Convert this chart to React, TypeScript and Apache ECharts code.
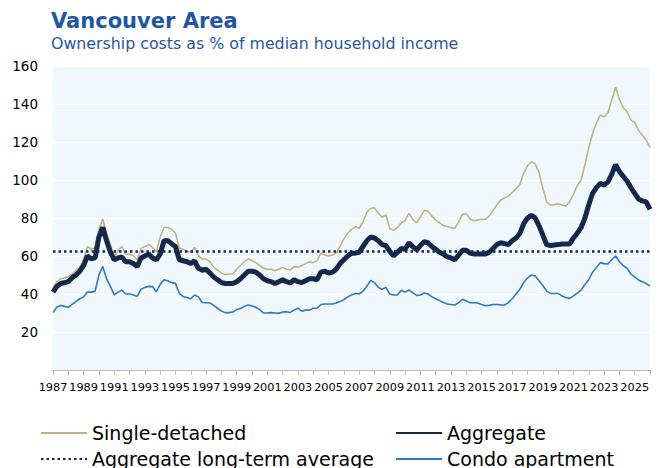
import React, { useEffect, useRef } from "react";
import * as echarts from "echarts";

const startYear = 1987;
const endYear = 2026;

// Quarterly values, 1987 Q1 .. 2026 Q1
const singleDetached = [
  43, 46.5, 48, 48.5, 49, 50.5, 52.5, 54, 58, 65,
  63.5, 64.5, 74, 79.5, 72, 66, 59, 63, 65, 61,
  61, 60, 58, 64, 65, 66, 64.5, 62.3, 70, 75,
  75, 74, 72, 64, 63.5, 62.5, 62, 64.5, 60, 58.5,
  58.3, 57, 54, 52.5, 51, 50.3, 50.5, 50.5, 53, 55,
  57, 58.5, 57.5, 56.5, 55, 53.5, 53, 53, 52.3, 53,
  54, 53, 52.6, 54.5, 54, 55, 56,
  57, 56.5, 57.5, 61.4,
  60.5, 60, 60.5, 61.5, 65, 69, 72, 74, 75.4, 74.6,
  78, 83, 85, 85.4, 82.5, 80.4, 81.6, 74.5, 73.5, 75,
  77.5, 78.6, 82.5, 79.3, 77.5, 80.5, 84, 83.5, 81, 78.9,
  77.5, 76, 75.5, 75, 74.6, 78, 82, 82.3, 79.5, 78.6,
  79, 79.3, 79.3, 81, 84, 87, 89.5, 90.5, 91.5, 93.5,
  95.5, 97.8, 103.5, 107.5, 109.6, 108.5, 104, 95.6, 88.5, 86.8,
  87, 87.5, 86.8, 86.3, 88.5, 92.5, 97, 100, 108, 117,
  124.6, 130, 134.2, 133.2, 135.4, 142, 148.8, 142.5, 138, 136,
  131.5, 130.2, 126, 123.5, 121, 117,
];

const aggregate = [
  41, 44, 45.5, 46, 46.5, 48.5, 50, 52, 55, 60,
  58.5, 59, 70, 75, 68, 62, 58, 59, 59.5, 57,
  57, 56, 54.5, 59, 60, 61, 59, 58, 61, 68,
  68, 66.5, 65, 58, 57.5, 57, 56, 57.5, 53.5, 52.5,
  53, 51, 49, 47.5, 46, 45.5, 45.5, 45.5, 46.5, 48,
  50, 52, 52, 51.5, 50, 48, 47, 46.5, 45.5, 46.5,
  47.5, 46.5, 45.8, 47.5, 46.5, 46, 47,
  48, 48, 47.5, 51.5,
  52, 51, 51.5, 53, 56, 58, 60, 61.5, 61.5, 62,
  65, 68, 70, 69.5, 68, 66, 65.5, 62.5, 60, 62,
  64, 63.5, 67, 65, 63.2, 65.5, 67.5, 67, 65, 63.5,
  62, 61, 59.6, 59, 58, 60.5, 63, 63, 61.5, 61,
  61, 61, 61, 62, 64, 66, 67, 66.5, 66, 68,
  69.5, 72, 77, 80, 81.5, 80, 76, 71, 66, 65.5,
  65.8, 66, 66.3, 66.3, 66.3, 69.5, 72, 75, 80, 87,
  93, 96, 98.2, 97.4, 99, 103, 108, 104.5, 102, 99.5,
  96, 93, 90, 89, 88.5, 84.5,
];

const condoApartment = [
  30.2, 33, 34, 33.5, 33, 34.5, 36, 37.5, 38.5, 41,
  41, 41.5, 50, 54.5, 48, 44, 39.5, 41, 42, 40,
  40, 39.5, 38.8, 42.5, 43.5, 44, 43.9, 41.2, 45, 47.5,
  47, 46, 45.6, 40.3, 38.6, 38.2, 37.5, 39.5, 38.5, 35.5,
  35.4, 35.3, 34, 32.5, 31, 30.2, 30.2, 30.5, 31.8, 32.4,
  33.5, 34.2, 33.7, 33, 31.8, 30, 30, 30.2, 30, 29.8,
  30.5, 30.7, 30.3, 31.5, 32.5, 31, 31.5,
  31.5, 32.5, 32.5, 34.5,
  34.7, 34.7, 34.7, 35.3, 36, 37, 38.5, 39.5, 40.3, 40,
  41.5, 44, 47.2, 46, 43.5, 42.5, 43.5, 40, 39.5, 39.5,
  42, 41, 42.1, 40.7, 39.3, 39.5, 40.5, 40, 38.5, 37.5,
  36.5, 35.5, 34.7, 34.5, 34.2, 35.5, 37.2, 36.3, 35.4, 35.4,
  35.3, 34.5, 33.8, 34, 34.5, 34.5, 34.3, 34.2, 35.5, 37.5,
  40, 42.5, 46, 48.5, 50, 49.5, 47, 44.5, 41.5, 40.3,
  40.3, 40.3, 39, 38.2, 37.7, 39, 40.5, 42, 45, 47.5,
  51.5, 54, 56.5, 56, 55.8, 58, 60, 57, 55, 53.5,
  50.5, 49, 47.4, 46.5, 45.5, 44.2,
];

const longTermAverage = 62.4;

const yTicks = { min: 0, max: 160, interval: 20 };

// Quarter categories
const quarters: string[] = [];
for (let y = startYear; y <= endYear; y++) {
  for (let q = 1; q <= 4; q++) {
    if (y === endYear && q > 1) break;
    quarters.push(`${y} Q${q}`);
  }
}

const FONT = "DejaVu Sans";
const TITLE_COLOR = "#1f56a3";

const legendItem = (name: string, left: number, top: number) => ({
  orient: "horizontal",
  left,
  top,
  padding: 0,
  itemWidth: 46,
  itemHeight: 14,
  itemGap: 0,
  selectedMode: false,
  data: [name],
  itemStyle: { opacity: 0 },
  textStyle: { fontFamily: FONT, fontSize: 19, color: "#000", lineHeight: 20 },
});

export default function App() {
  const ref = useRef<HTMLDivElement>(null);

  useEffect(() => {
    if (!ref.current) return;
    const chart = echarts.init(ref.current, null, { renderer: "svg" });
    const avgData = quarters.map(() => longTermAverage);

    chart.setOption({
      animation: false,
      backgroundColor: "#ffffff",
      textStyle: { fontFamily: FONT },
      title: {
        text: "Vancouver Area",
        subtext: "Ownership costs as % of median household income",
        left: 51,
        top: 10,
        padding: 0,
        itemGap: 4,
        textStyle: {
          fontFamily: FONT,
          fontSize: 21,
          fontWeight: "bold",
          color: TITLE_COLOR,
        },
        subtextStyle: {
          fontFamily: FONT,
          fontSize: 15.8,
          color: TITLE_COLOR,
        },
      },
      legend: [
        legendItem("Single-detached", 40, 423),
        legendItem("Aggregate long-term average", 40, 449),
        legendItem("Aggregate", 395, 423),
        legendItem("Condo apartment", 395, 449),
      ],
      grid: {
        left: 53,
        right: 10,
        top: 66,
        bottom: 98,
        show: true,
        backgroundColor: "#f0f8fd",
        borderWidth: 0,
      },
      xAxis: {
        type: "category",
        data: quarters,
        boundaryGap: false,
        axisLine: { show: true, lineStyle: { color: "#bfbfbf", width: 1 } },
        axisTick: {
          show: true,
          length: 5,
          interval: (index: number) => index % 4 === 0,
          lineStyle: { color: "#bfbfbf" },
        },
        axisLabel: {
          interval: (index: number) => index % 8 === 0,
          formatter: (v: string) => v.slice(0, 4),
          fontFamily: FONT,
          fontSize: 11.3,
          color: "#000",
          margin: 12,
        },
        splitLine: { show: false },
      },
      yAxis: {
        type: "value",
        min: yTicks.min,
        max: yTicks.max,
        interval: yTicks.interval,
        axisLine: { show: false },
        axisTick: { show: false },
        axisLabel: {
          formatter: (v: number) => (v === 0 ? "" : String(v)),
          fontFamily: FONT,
          fontSize: 13.5,
          color: "#000",
          margin: 15,
        },
        splitLine: { show: true, lineStyle: { color: "#ffffff", width: 1 } },
      },
      series: [
        {
          name: "Single-detached",
          type: "line",
          data: singleDetached,
          symbol: "none",
          lineStyle: { color: "#c3b27f", width: 1.6 },
          itemStyle: { color: "#c3b27f" },
          z: 2,
        },
        {
          name: "Condo apartment",
          type: "line",
          data: condoApartment,
          symbol: "none",
          lineStyle: { color: "#2f79c6", width: 1.6 },
          itemStyle: { color: "#2f79c6" },
          z: 2,
        },
        {
          name: "Aggregate long-term average",
          type: "line",
          data: avgData,
          symbol: "none",
          lineStyle: { color: "#14294d", width: 2.5, type: [2.5, 3] },
          itemStyle: { color: "#14294d" },
          z: 3,
        },
        {
          name: "Aggregate",
          type: "line",
          data: aggregate,
          symbol: "none",
          lineStyle: { color: "#13284b", width: 5 },
          itemStyle: { color: "#13284b" },
          z: 4,
        },
      ],
    });

    return () => chart.dispose();
  }, []);

  return (
    <div
      ref={ref}
      style={{ position: "fixed", left: 0, top: 0, width: 660, height: 468 }}
    />
  );
}
